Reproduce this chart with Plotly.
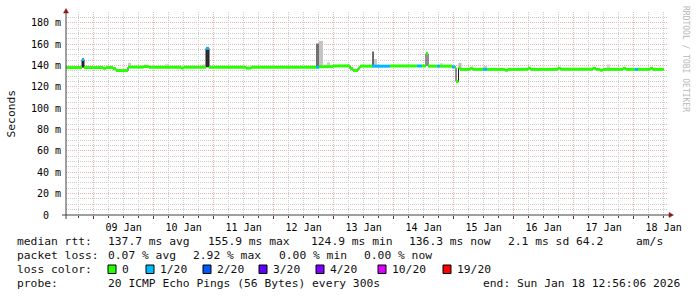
import plotly.graph_objects as go
import pandas as pd

# ---------------- data ----------------
loss_labels = ["0", "1/20", "2/20", "3/20", "4/20", "10/20", "19/20"]
loss_colors = ["#26ff00", "#00b8ff", "#0059ff", "#5e00ff", "#7e00ff", "#dd00ff", "#ff0000"]

# median RTT (ms), step change points; loss index into loss_labels
med_time = [
    "2026-01-08 12:56", "2026-01-08 19:20", "2026-01-08 20:08", "2026-01-09 03:44",
    "2026-01-09 04:56", "2026-01-09 07:44", "2026-01-09 08:56", "2026-01-09 13:44",
    "2026-01-09 20:00", "2026-01-09 22:00", "2026-01-10 10:56", "2026-01-10 12:08",
    "2026-01-10 20:56", "2026-01-10 22:08", "2026-01-11 13:00", "2026-01-11 15:00",
    "2026-01-12 16:56", "2026-01-12 18:08", "2026-01-12 23:44", "2026-01-13 06:32",
    "2026-01-13 07:44", "2026-01-13 09:44", "2026-01-13 10:32", "2026-01-13 15:20",
    "2026-01-13 22:32", "2026-01-14 09:20", "2026-01-14 11:20", "2026-01-14 12:56",
    "2026-01-14 13:44", "2026-01-14 17:20", "2026-01-14 18:32", "2026-01-14 23:20",
    "2026-01-15 00:32", "2026-01-15 00:56", "2026-01-15 01:56", "2026-01-15 02:32",
    "2026-01-15 06:30", "2026-01-15 07:40", "2026-01-15 11:44", "2026-01-15 13:20",
    "2026-01-15 20:30", "2026-01-15 21:40", "2026-01-16 05:40", "2026-01-16 06:50",
    "2026-01-16 17:40", "2026-01-16 18:50", "2026-01-17 07:40", "2026-01-17 08:50",
    "2026-01-17 10:30", "2026-01-17 11:40", "2026-01-17 19:40", "2026-01-17 20:50",
    "2026-01-18 00:32", "2026-01-18 01:44", "2026-01-18 06:30", "2026-01-18 07:40",
]
med_ms = [
    138.0, 145.5, 138.0, 137.3,
    138.0, 137.0, 135.2, 138.4,
    139.0, 138.4, 137.6, 138.3,
    156.0, 138.3, 137.5, 138.3,
    138.3, 138.8, 139.5, 137.0,
    135.3, 137.3, 139.3, 139.3,
    139.5, 139.5, 139.5, 151.0,
    139.3, 139.3, 139.3, 138.6,
    138.0, 125.0, 137.5, 136.3,
    137.3, 136.3, 136.3, 136.3,
    135.5, 136.3, 137.3, 136.3,
    137.3, 136.3, 137.3, 136.3,
    135.5, 136.3, 137.3, 136.3,
    136.3, 136.3, 137.3, 136.3,
]
med_loss = [
    0, 1, 0, 0,
    0, 0, 0, 0,
    0, 0, 0, 0,
    1, 0, 0, 0,
    1, 0, 0, 0,
    0, 0, 0, 1,
    0, 1, 0, 0,
    0, 1, 0, 1,
    0, 0, 0, 0,
    0, 0, 1, 0,
    0, 0, 0, 0,
    0, 0, 0, 0,
    0, 0, 0, 0,
    1, 0, 0, 0,
]
med_end = "2026-01-18 12:08"

# smoke (ping spread) blocks
smoke_start = ["2026-01-08 19:20", "2026-01-09 13:44", "2026-01-10 04:32", "2026-01-10 19:50",
               "2026-01-10 20:56", "2026-01-12 16:56", "2026-01-12 18:08", "2026-01-12 21:20",
               "2026-01-13 15:20", "2026-01-13 16:08", "2026-01-14 12:56", "2026-01-14 18:30",
               "2026-01-15 01:56", "2026-01-15 11:44", "2026-01-17 13:20"]
smoke_end = ["2026-01-08 20:08", "2026-01-09 14:56", "2026-01-10 05:44", "2026-01-10 20:56",
             "2026-01-10 22:08", "2026-01-12 18:08", "2026-01-12 19:44", "2026-01-12 22:32",
             "2026-01-13 16:08", "2026-01-13 17:20", "2026-01-14 13:44", "2026-01-14 19:40",
             "2026-01-15 03:08", "2026-01-15 13:20", "2026-01-17 14:30"]
smoke_low = [138.0, 138.4, 138.3, 138.3, 138.3, 138.3, 138.8, 138.8,
             139.3, 139.3, 150.0, 139.3, 137.5, 136.3, 136.3]
smoke_high = [146.0, 142.5, 141.5, 141.0, 156.0, 160.5, 163.0, 143.0,
              153.0, 146.0, 153.0, 142.0, 142.5, 139.5, 141.0]
smoke_shade = ["#303030", "#c8c8c8", "#dcdcdc", "#d0d0d0", "#303030", "#707070", "#c4c4c4", "#cccccc",
               "#6a6a6a", "#c8c8c8", "#c8c8c8", "#d0d0d0", "#bcbcbc", "#cccccc", "#d4d4d4"]

y_tick_vals = [0, 20, 40, 60, 80, 100, 120, 140, 160, 180]
y_tick_text = ["0\u00a0\u00a0", "20 m", "40 m", "60 m", "80 m", "100 m", "120 m", "140 m", "160 m", "180 m"]

rtt_stats = ["137.7 ms avg", "155.9 ms max", "124.9 ms min", "136.3 ms now", "2.1 ms sd", "64.2", "am/s"]
loss_stats = ["0.07 % avg", "2.92 % max", "0.00 % min", "0.00 % now"]
probe_text = "20 ICMP Echo Pings (56 Bytes) every 300s"
end_text = "end: Sun Jan 18 12:56:06 2026"

t_start = pd.Timestamp("2026-01-08 12:56:06")
t_stop = pd.Timestamp("2026-01-18 13:44:06")

# ---------------- layout constants ----------------
W, H = 697, 297
L, R, T, B = 66, 29, 12, 82
PW, PH = W - L - R, H - T - B
MONO = "DejaVu Sans Mono"

def px(x):
    return (x - L) / PW

def py(y):
    return (H - B - y) / PH

fig = go.Figure()

# smoke bars
s0 = pd.to_datetime(smoke_start)
s1 = pd.to_datetime(smoke_end)
mid = s0 + (s1 - s0) / 2
widths = [(b - a).total_seconds() * 1000 for a, b in zip(s0, s1)]
fig.add_trace(go.Bar(
    x=mid, y=[h - l for h, l in zip(smoke_high, smoke_low)], base=smoke_low,
    width=widths, marker=dict(color=smoke_shade, line=dict(width=0)),
    hoverinfo="skip",
))

# thin dark median step line
tb = list(pd.to_datetime(med_time)) + [pd.Timestamp(med_end)]
fig.add_trace(go.Scatter(
    x=tb, y=med_ms + [med_ms[-1]], mode="lines",
    line=dict(color="#202020", width=1, shape="hv"), hoverinfo="skip",
))

# loss-coloured median segments
for lvl in sorted(set(med_loss)):
    xs, ys = [], []
    for i, (v, l) in enumerate(zip(med_ms, med_loss)):
        if l == lvl:
            xs += [tb[i], tb[i + 1], None]
            ys += [v, v, None]
    fig.add_trace(go.Scatter(
        x=xs, y=ys, mode="lines", connectgaps=False,
        line=dict(color=loss_colors[lvl], width=3), hoverinfo="skip",
    ))

MAJ = "#eab4b4"
MIN = "#cccccc"
DOT = "1px,1px"

fig.update_layout(
    width=W, height=H, autosize=False,
    margin=dict(l=L, r=R, t=T, b=B, pad=0),
    paper_bgcolor="white", plot_bgcolor="white",
    showlegend=False, barmode="overlay",
    font=dict(family=MONO, size=10, color="#000000"),
    xaxis=dict(
        type="date", range=[t_start, t_stop],
        tick0="2026-01-08", dtick=86400000, tickformat="%d %b", ticklabelmode="period",
        showgrid=True, gridcolor=MAJ, griddash=DOT, gridwidth=1,
        ticks="outside", ticklen=3, tickcolor="#404040",
        tickfont=dict(family=MONO, size=10, color="#000000"),
        minor=dict(tick0="2026-01-08", dtick=21600000, showgrid=True, gridcolor=MIN,
                   griddash=DOT, ticks="outside", ticklen=2, tickcolor="#404040"),
        showline=False, zeroline=False, fixedrange=True,
    ),
    yaxis=dict(
        range=[0, 190], tickmode="array", tickvals=y_tick_vals, ticktext=y_tick_text,
        showgrid=True, gridcolor=MAJ, griddash=DOT, gridwidth=1,
        ticks="", tickfont=dict(family=MONO, size=10, color="#000000"),
        ticklabelstandoff=4,
        minor=dict(tickmode="linear", tick0=0, dtick=5, showgrid=True, gridcolor=MIN, griddash=DOT),
        showline=False, zeroline=False, fixedrange=True,
    ),
)

shapes = []
# axis lines
shapes.append(dict(type="line", xref="paper", yref="paper", x0=px(62), x1=px(670),
                   y0=py(215), y1=py(215), line=dict(color="#404040", width=1)))
shapes.append(dict(type="line", xref="paper", yref="paper", x0=px(66), x1=px(66),
                   y0=py(219), y1=py(12), line=dict(color="#404040", width=1)))
# arrows
ARROW = "#8b1a1a"
shapes.append(dict(type="path", xref="paper", yref="paper",
                   path=f"M {px(66)},{py(8.5)} L {px(63.5)},{py(13)} L {px(68.5)},{py(13)} Z",
                   fillcolor=ARROW, line=dict(color=ARROW, width=0.5)))
shapes.append(dict(type="path", xref="paper", yref="paper",
                   path=f"M {px(673.5)},{py(215)} L {px(669)},{py(212.5)} L {px(669)},{py(217.5)} Z",
                   fillcolor=ARROW, line=dict(color=ARROW, width=0.5)))

# legend colour boxes
box_x = [108, 146, 203, 259, 316, 378, 443]
for bx, col in zip(box_x, loss_colors):
    shapes.append(dict(type="rect", xref="paper", yref="paper",
                       x0=px(bx), x1=px(bx + 8), y0=py(273.5), y1=py(265),
                       fillcolor=col, line=dict(color="#000000", width=1)))
fig.update_layout(shapes=shapes)

LF = dict(family=MONO, size=11.3, color="#111111")
ann = []

def text(x, y, s, anchor="left", font=LF, angle=0):
    ann.append(dict(xref="paper", yref="paper", x=px(x), y=py(y), text=s,
                    showarrow=False, xanchor=anchor, yanchor="middle", font=font,
                    textangle=angle, borderpad=0))

text(16, 241, "median rtt:")
for xx, s in zip([107, 207, 310, 408, 507, 575, 635], rtt_stats):
    text(xx, 241, s)
text(16, 255, "packet loss:")
for xx, s in zip([107, 192, 278, 363], loss_stats):
    text(xx, 255, s)
text(16, 269, "loss color:")
for bx, s in zip(box_x, loss_labels):
    text(bx + 13, 269, s)
text(16, 283.5, "probe:")
text(107, 283.5, probe_text)
text(681, 283.5, end_text, anchor="right")

# y axis title
ann.append(dict(xref="paper", yref="paper", x=px(11), y=py(113.5), text="Seconds",
                showarrow=False, xanchor="center", yanchor="middle", textangle=-90,
                font=LF))
# watermark
ann.append(dict(xref="paper", yref="paper", x=px(686), y=py(59), text="RRDTOOL / TOBI OETIKER",
                showarrow=False, xanchor="center", yanchor="middle", textangle=90,
                font=dict(family=MONO, size=8, color="#b8b8b8")))
fig.update_layout(annotations=ann)

fig.write_html("out.html")
